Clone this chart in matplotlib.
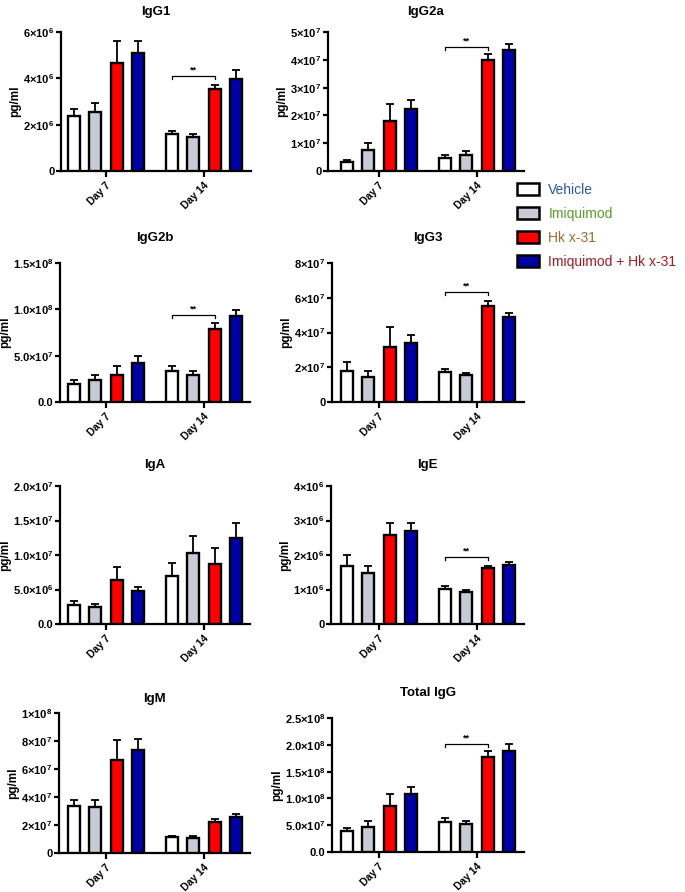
import numpy as np
import matplotlib
matplotlib.use("Agg")
import matplotlib.pyplot as plt
from matplotlib.patches import Patch

plt.rcParams["font.family"] = ["Liberation Sans", "DejaVu Sans"]
plt.rcParams["mathtext.fontset"] = "custom"
plt.rcParams["mathtext.rm"] = "Liberation Sans:bold"
plt.rcParams["mathtext.bf"] = "Liberation Sans:bold"
plt.rcParams["mathtext.it"] = "Liberation Sans:bold"
plt.rcParams["mathtext.default"] = "rm"

# ---- data ----
days = ["Day 7", "Day 14"]
treatments = ["Vehicle", "Imiquimod", "Hk x-31", "Imiquimod + Hk x-31"]
bar_colors = ["#ffffff", "#c8cad5", "#ff0000", "#0000a8"]
label_colors = ["#2d57a3", "#5c9b2d", "#a3692c", "#9e1b24"]

panels = ["IgG1", "IgG2a", "IgG2b", "IgG3", "IgA", "IgE", "IgM", "Total IgG"]

# means, rows = day, cols = treatment
igg1_mean = [[2.37e6, 2.53e6, 4.68e6, 5.09e6], [1.60e6, 1.47e6, 3.55e6, 3.99e6]]
igg1_sem = [[0.31e6, 0.40e6, 0.92e6, 0.51e6], [0.11e6, 0.13e6, 0.18e6, 0.36e6]]
igg2a_mean = [[0.32e7, 0.74e7, 1.80e7, 2.23e7], [0.46e7, 0.56e7, 4.00e7, 4.37e7]]
igg2a_sem = [[0.09e7, 0.26e7, 0.60e7, 0.34e7], [0.13e7, 0.16e7, 0.20e7, 0.21e7]]
igg2b_mean = [[1.98e7, 2.34e7, 2.88e7, 4.24e7], [3.38e7, 2.88e7, 7.88e7, 9.32e7]]
igg2b_sem = [[0.36e7, 0.61e7, 1.00e7, 0.69e7], [0.54e7, 0.47e7, 0.65e7, 0.64e7]]
igg3_mean = [[1.77e7, 1.44e7, 3.19e7, 3.38e7], [1.71e7, 1.54e7, 5.51e7, 4.88e7]]
igg3_sem = [[0.55e7, 0.33e7, 1.11e7, 0.46e7], [0.19e7, 0.13e7, 0.29e7, 0.26e7]]
iga_mean = [[2.79e6, 2.40e6, 6.44e6, 4.81e6], [6.97e6, 10.24e6, 8.65e6, 12.50e6]]
iga_sem = [[0.48e6, 0.48e6, 1.88e6, 0.62e6], [1.83e6, 2.50e6, 2.41e6, 2.16e6]]
ige_mean = [[1.69e6, 1.47e6, 2.57e6, 2.70e6], [1.02e6, 0.94e6, 1.62e6, 1.70e6]]
ige_sem = [[0.30e6, 0.21e6, 0.36e6, 0.22e6], [0.07e6, 0.05e6, 0.07e6, 0.11e6]]
igm_mean = [[3.35e7, 3.30e7, 6.65e7, 7.37e7], [1.12e7, 1.05e7, 2.22e7, 2.58e7]]
igm_sem = [[0.45e7, 0.46e7, 1.44e7, 0.76e7], [0.12e7, 0.17e7, 0.22e7, 0.24e7]]
total_mean = [[3.92e7, 4.73e7, 8.58e7, 10.8e7], [5.66e7, 5.16e7, 17.7e7, 18.8e7]]
total_sem = [[0.48e7, 1.05e7, 2.22e7, 1.30e7], [0.74e7, 0.62e7, 1.10e7, 1.30e7]]

means = [igg1_mean, igg2a_mean, igg2b_mean, igg3_mean, iga_mean, ige_mean, igm_mean, total_mean]
sems = [igg1_sem, igg2a_sem, igg2b_sem, igg3_sem, iga_sem, ige_sem, igm_sem, total_sem]

# "**" bracket height (Vehicle vs Hk x-31, Day 14); None = no bracket
sig_height = [4.1e6, 4.46e7, 9.4e7, 6.31e7, None, 1.93e6, None, 2.02e8]

y_ticks = [
    [0, 2e6, 4e6, 6e6],
    [0, 1e7, 2e7, 3e7, 4e7, 5e7],
    [0, 5e7, 1e8, 1.5e8],
    [0, 2e7, 4e7, 6e7, 8e7],
    [0, 5e6, 1e7, 1.5e7, 2e7],
    [0, 1e6, 2e6, 3e6, 4e6],
    [0, 2e7, 4e7, 6e7, 8e7, 1e8],
    [0, 5e7, 1e8, 1.5e8, 2e8, 2.5e8],
]
y_ticklabels = [
    ["0", r"$2{\times}10^{6}$", r"$4{\times}10^{6}$", r"$6{\times}10^{6}$"],
    ["0", r"$1{\times}10^{7}$", r"$2{\times}10^{7}$", r"$3{\times}10^{7}$", r"$4{\times}10^{7}$", r"$5{\times}10^{7}$"],
    ["0.0", r"$5.0{\times}10^{7}$", r"$1.0{\times}10^{8}$", r"$1.5{\times}10^{8}$"],
    ["0", r"$2{\times}10^{7}$", r"$4{\times}10^{7}$", r"$6{\times}10^{7}$", r"$8{\times}10^{7}$"],
    ["0.0", r"$5.0{\times}10^{6}$", r"$1.0{\times}10^{7}$", r"$1.5{\times}10^{7}$", r"$2.0{\times}10^{7}$"],
    ["0", r"$1{\times}10^{6}$", r"$2{\times}10^{6}$", r"$3{\times}10^{6}$", r"$4{\times}10^{6}$"],
    ["0", r"$2{\times}10^{7}$", r"$4{\times}10^{7}$", r"$6{\times}10^{7}$", r"$8{\times}10^{7}$", r"$1{\times}10^{8}$"],
    ["0.0", r"$5.0{\times}10^{7}$", r"$1.0{\times}10^{8}$", r"$1.5{\times}10^{8}$", r"$2.0{\times}10^{8}$", r"$2.5{\times}10^{8}$"],
]

# ---- layout (pixels: axis left, axis top, axis right, baseline; day-7 tick x; title centre y) ----
W, H = 685, 892
boxes = [(61, 32, 251, 171), (328, 32, 524, 171),
         (60, 263, 250, 402), (332, 263, 524, 402),
         (60, 486, 250, 624), (331, 486, 524, 624),
         (59, 713, 250, 853), (332, 718, 524, 852)]
tick7 = [106, 379, 106, 379, 106, 379, 106, 379]
title_y = [12, 12, 238, 238, 465, 465, 699, 693]
PPU = 98.0           # pixels per day-group
PITCH = 0.2175       # bar spacing within a group
BAR_W = 0.123

fig = plt.figure(figsize=(W / 100, H / 100), dpi=100)

for k, name in enumerate(panels):
    l, t, r, b = boxes[k]
    ax = fig.add_axes([l / W, 1 - b / H, (r - l) / W, (b - t) / H])
    m = np.array(means[k])
    s = np.array(sems[k])
    base = np.arange(len(days))
    for i in range(len(treatments)):
        x = base + (i - 1.5) * PITCH
        ax.errorbar(x, m[:, i], yerr=[np.zeros(len(days)), s[:, i]], fmt="none",
                    ecolor="black", elinewidth=1.3, capsize=3, capthick=1.3, zorder=2)
        ax.bar(x, m[:, i], width=BAR_W, color=bar_colors[i], edgecolor="black",
               linewidth=1.7, zorder=3)

    ymax = y_ticks[k][-1]
    ax.set_ylim(0, ymax)
    ax.set_xlim((l - tick7[k]) / PPU, (r - tick7[k]) / PPU)
    ax.set_yticks(y_ticks[k])
    ax.set_yticklabels(y_ticklabels[k], fontsize=8, fontweight="bold")
    ax.set_xticks(base)
    ax.set_xticklabels(days, rotation=45, ha="right", rotation_mode="anchor",
                       fontsize=7.5, fontweight="bold")
    ax.set_ylabel("pg/ml", fontsize=8.5, fontweight="bold", labelpad=1.5)
    for sp in ("top", "right"):
        ax.spines[sp].set_visible(False)
    for sp in ("left", "bottom"):
        ax.spines[sp].set_linewidth(1.6)
    ax.tick_params(axis="y", length=3.5, width=1.6, pad=1.2)
    ax.tick_params(axis="x", length=4, width=1.6, pad=3)

    h = sig_height[k]
    if h is not None:
        x1, x2 = 1 - 1.5 * PITCH, 1 + 0.5 * PITCH
        drop = 0.022 * ymax
        ax.plot([x1, x1, x2, x2], [h - drop, h, h, h - drop], color="black", lw=0.9,
                clip_on=False, zorder=4)
        ax.text((x1 + x2) / 2, h + 0.012 * ymax, "**", ha="center", va="bottom",
                fontsize=6.5, fontweight="bold")

    fig.text((l + r) / 2 / W, 1 - title_y[k] / H, name, ha="center", va="center",
             fontsize=9.5, fontweight="bold")

handles = [Patch(facecolor=c, edgecolor="black", linewidth=1.8) for c in bar_colors]
fig.legend(handles, treatments, loc="upper left", bbox_to_anchor=(517 / W, 1 - 183 / H),
           frameon=False, fontsize=10, handlelength=1.55, handleheight=0.9,
           handletextpad=0.7, labelspacing=0.72, borderpad=0, borderaxespad=0,
           labelcolor=label_colors)

fig.savefig("out.png", dpi=100)
